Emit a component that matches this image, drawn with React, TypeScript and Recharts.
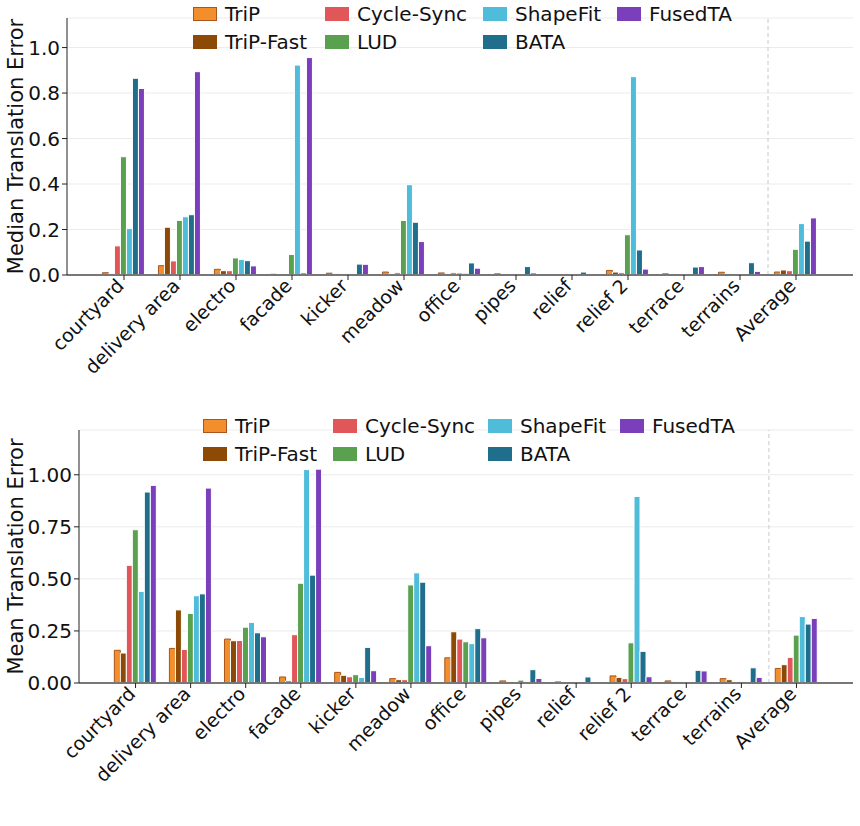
import React from 'react';
import { BarChart, Bar, XAxis, YAxis, CartesianGrid, ReferenceLine } from 'recharts';

const categories = [
  'courtyard', 'delivery area', 'electro', 'facade', 'kicker', 'meadow', 'office',
  'pipes', 'relief', 'relief 2', 'terrace', 'terrains', 'Average',
];

const methods = ['TriP', 'TriP-Fast', 'Cycle-Sync', 'LUD', 'ShapeFit', 'BATA', 'FusedTA'];

// median translation error (top panel)
const medianTriP = [0.010, 0.041, 0.025, 0.003, 0.008, 0.013, 0.009, 0.005, 0.002, 0.020, 0.005, 0.012, 0.013];
const medianTriPFast = [0.006, 0.210, 0.019, 0.001, 0.006, 0.006, 0.005, 0.003, 0.001, 0.013, 0.003, 0.006, 0.022];
const medianCycleSync = [0.128, 0.062, 0.019, 0.0, 0.005, 0.010, 0.010, 0.004, 0.0, 0.010, 0.003, 0.003, 0.019];
const medianLUD = [0.520, 0.240, 0.075, 0.090, 0.005, 0.240, 0.009, 0.005, 0.0, 0.177, 0.003, 0.003, 0.113];
const medianShapeFit = [0.204, 0.256, 0.068, 0.923, 0.003, 0.397, 0.008, 0.003, 0.0, 0.872, 0.002, 0.003, 0.226];
const medianBATA = [0.865, 0.265, 0.063, 0.009, 0.048, 0.232, 0.053, 0.037, 0.013, 0.110, 0.035, 0.054, 0.149];
const medianFusedTA = [0.820, 0.894, 0.040, 0.956, 0.047, 0.147, 0.030, 0.009, 0.0, 0.026, 0.037, 0.016, 0.251];

// mean translation error (bottom panel)
const meanTriP = [0.157, 0.166, 0.211, 0.029, 0.051, 0.021, 0.121, 0.010, 0.005, 0.034, 0.010, 0.021, 0.070];
const meanTriPFast = [0.144, 0.351, 0.203, 0.010, 0.037, 0.016, 0.246, 0.005, 0.002, 0.027, 0.006, 0.016, 0.088];
const meanCycleSync = [0.565, 0.161, 0.204, 0.232, 0.030, 0.016, 0.211, 0.005, 0.0, 0.021, 0.005, 0.007, 0.123];
const meanLUD = [0.736, 0.334, 0.268, 0.479, 0.040, 0.471, 0.198, 0.014, 0.0, 0.193, 0.005, 0.006, 0.230];
const meanShapeFit = [0.440, 0.419, 0.291, 1.025, 0.027, 0.529, 0.189, 0.006, 0.0, 0.896, 0.004, 0.005, 0.319];
const meanBATA = [0.917, 0.428, 0.241, 0.518, 0.171, 0.484, 0.261, 0.064, 0.029, 0.152, 0.061, 0.073, 0.283];
const meanFusedTA = [0.949, 0.936, 0.222, 1.027, 0.059, 0.179, 0.217, 0.022, 0.0, 0.030, 0.058, 0.027, 0.310];

const medianTicks = [0, 0.2, 0.4, 0.6, 0.8, 1.0];
const meanTicks = [0, 0.25, 0.5, 0.75, 1.0];

const colors: Record<string, string> = {
  'TriP': '#f28e2b',
  'TriP-Fast': '#8c4a06',
  'Cycle-Sync': '#e15759',
  'LUD': '#59a14f',
  'ShapeFit': '#4fbcd9',
  'BATA': '#1f6e8b',
  'FusedTA': '#7b3fbc',
};
const edges: Record<string, string> = {
  'TriP': '#a8561a',
};

const FONT = '"DejaVu Sans", sans-serif';

function buildRows(series: number[][]) {
  return categories.map((name, i) => {
    const row: Record<string, string | number> = { name };
    methods.forEach((m, j) => {
      row[m] = series[j][i];
    });
    return row;
  });
}

const medianData = buildRows([
  medianTriP, medianTriPFast, medianCycleSync, medianLUD, medianShapeFit, medianBATA, medianFusedTA,
]);
const meanData = buildRows([
  meanTriP, meanTriPFast, meanCycleSync, meanLUD, meanShapeFit, meanBATA, meanFusedTA,
]);

const XTick = (props: any) => {
  const { x, y, payload } = props;
  const px = x - 9;
  const py = y - 5;
  return (
    <text
      x={px}
      y={py}
      dy="0.75em"
      transform={`rotate(-45 ${px} ${py})`}
      textAnchor="end"
      fontSize={19}
      fontFamily={FONT}
      fill="#111"
    >
      {payload.value}
    </text>
  );
};

function LegendBox({ cols, top }: { cols: number[]; top: number }) {
  // column-major order, two rows
  const layout = [
    ['TriP', 'TriP-Fast'],
    ['Cycle-Sync', 'LUD'],
    ['ShapeFit', 'BATA'],
    ['FusedTA'],
  ];
  return (
    <>
      {layout.map((col, ci) =>
        col.map((m, ri) => (
          <div
            key={m}
            style={{
              position: 'absolute',
              left: cols[ci],
              top: top + ri * 28 - 11,
              height: 22,
              display: 'flex',
              alignItems: 'center',
              fontFamily: FONT,
              fontSize: 20,
              color: '#111',
              whiteSpace: 'nowrap',
            }}
          >
            <span
              style={{
                display: 'inline-block',
                width: edges[m] ? 22 : 24,
                height: edges[m] ? 12 : 14,
                background: colors[m],
                border: edges[m] ? `1px solid ${edges[m]}` : 'none',
                marginRight: 8,
              }}
            />
            {m}
          </div>
        ))
      )}
    </>
  );
}

function ErrorChart({
  data, ticks, domainMax, label, fmt, height, marginTop, yWidth, xHeight,
}: {
  data: any[]; ticks: number[]; domainMax: number; label: string; fmt: (v: number) => string;
  height: number; marginTop: number; yWidth: number; xHeight: number;
}) {
  return (
    <BarChart
      width={860}
      height={height}
      data={data}
      margin={{ top: marginTop, right: 7, left: 0, bottom: 0 }}
      barCategoryGap="11.5%"
      barGap={0}
    >
      <CartesianGrid vertical={false} stroke="#ebebeb" strokeWidth={1} />
      <XAxis
        dataKey="name"
        height={xHeight}
        interval={0}
        padding={{ left: 29, right: 29 }}
        tick={<XTick />}
        tickSize={5}
        tickLine={{ stroke: '#222', strokeWidth: 1 }}
        axisLine={{ stroke: '#777', strokeWidth: 2 }}
      />
      <YAxis
        width={yWidth}
        domain={[0, domainMax]}
        ticks={ticks}
        allowDataOverflow
        tickFormatter={fmt}
        tickSize={5}
        tick={{ fill: '#111', fontSize: 20, fontFamily: FONT }}
        tickLine={{ stroke: '#222', strokeWidth: 1 }}
        axisLine={{ stroke: '#222', strokeWidth: 1 }}
        label={{
          content: (p: any) => {
            const vb = p.viewBox || {};
            const cy = (vb.y ?? marginTop) + (vb.height ?? 0) / 2;
            return (
              <text
                x={16}
                y={cy}
                transform={`rotate(-90 16 ${cy})`}
                textAnchor="middle"
                dominantBaseline="central"
                fontSize={21}
                fontFamily={FONT}
                fill="#111"
              >
                {label}
              </text>
            );
          },
        }}
      />
      <ReferenceLine x="terrains" position="end" stroke="#c8c8c8" strokeDasharray="4 3" strokeWidth={1} />
      {methods.map((m) => (
        <Bar
          key={m}
          dataKey={m}
          fill={colors[m]}
          stroke={edges[m] || '#ffffff'}
          strokeWidth={1}
          isAnimationActive={false}
        />
      ))}
    </BarChart>
  );
}

export default function App() {
  return (
    <div style={{ position: 'absolute', left: 0, top: 0, width: 860, height: 826, background: '#fff' }}>
      <div style={{ position: 'absolute', left: 0, top: 0 }}>
        <ErrorChart
          data={medianData}
          ticks={medianTicks}
          domainMax={1.13}
          label="Median Translation Error"
          fmt={(v) => v.toFixed(1)}
          height={410}
          marginTop={18}
          yWidth={67}
          xHeight={135}
        />
        <LegendBox cols={[193, 325, 483, 617]} top={14} />
      </div>
      <div style={{ position: 'absolute', left: 0, top: 410 }}>
        <ErrorChart
          data={meanData}
          ticks={meanTicks}
          domainMax={1.215}
          label="Mean Translation Error"
          fmt={(v) => v.toFixed(2)}
          height={416}
          marginTop={20}
          yWidth={79}
          xHeight={143}
        />
        <LegendBox cols={[203, 333, 488, 620]} top={16} />
      </div>
    </div>
  );
}
